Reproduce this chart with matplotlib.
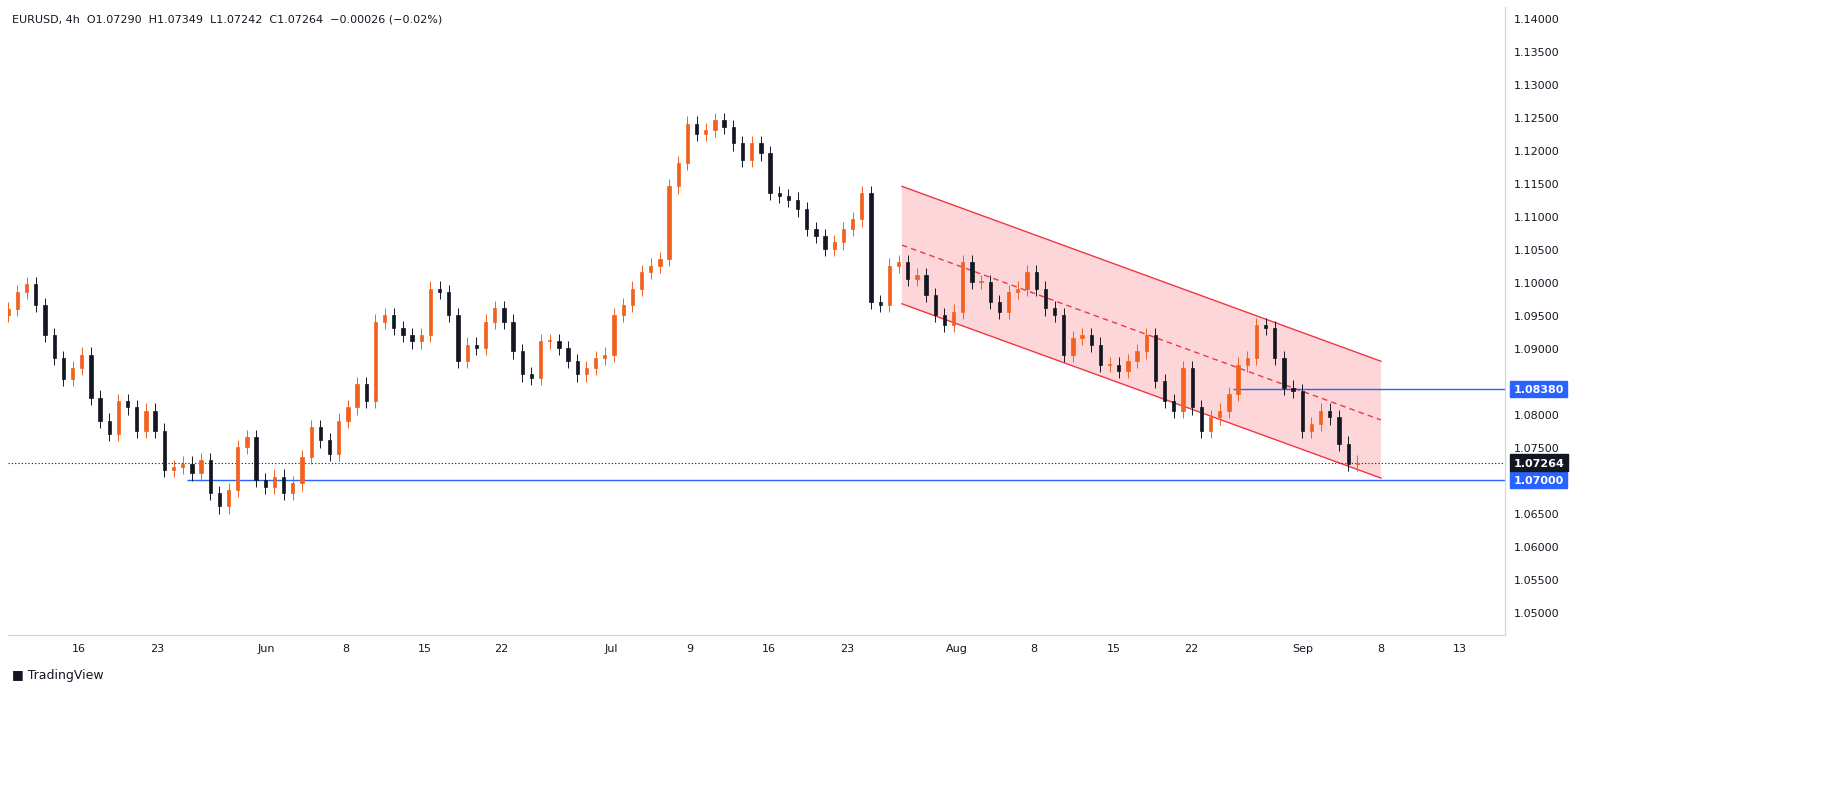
import numpy as np
import matplotlib.pyplot as plt
from matplotlib.patches import Rectangle, Polygon

# closes, roughly every 12h of trading time
closes = [1.0959, 1.0985, 1.0997, 1.0965, 1.0920, 1.0885, 1.0853, 1.0870, 1.0890, 1.0825,
          1.0790, 1.0770, 1.0820, 1.0810, 1.0775, 1.0805, 1.0775, 1.0715, 1.0720, 1.0725,
          1.0710, 1.0730, 1.0680, 1.0660, 1.0685, 1.0750, 1.0765, 1.0700, 1.0690, 1.0705,
          1.0680, 1.0695, 1.0735, 1.0780, 1.0760, 1.0740, 1.0790, 1.0810, 1.0845, 1.0820,
          1.0940, 1.0950, 1.0930, 1.0920, 1.0910, 1.0920, 1.0990, 1.0985, 1.0950, 1.0880,
          1.0905, 1.0900, 1.0940, 1.0960, 1.0940, 1.0895, 1.0860, 1.0855, 1.0910, 1.0910,
          1.0900, 1.0880, 1.0860, 1.0870, 1.0885, 1.0890, 1.0950, 1.0965, 1.0990, 1.1015,
          1.1025, 1.1035, 1.1145, 1.1180, 1.1240, 1.1225, 1.1230, 1.1245, 1.1235, 1.1210,
          1.1185, 1.1210, 1.1195, 1.1135, 1.1130, 1.1125, 1.1110, 1.1080, 1.1070, 1.1050,
          1.1060, 1.1080, 1.1095, 1.1135, 1.0970, 1.0965, 1.1025, 1.1030, 1.1005, 1.1010,
          1.0980, 1.0950, 1.0935, 1.0955, 1.1030, 1.1000, 1.1000, 1.0970, 1.0955, 1.0985,
          1.0990, 1.1015, 1.0990, 1.0960, 1.0950, 1.0890, 1.0915, 1.0920, 1.0905, 1.0875,
          1.0875, 1.0865, 1.0880, 1.0895, 1.0920, 1.0850, 1.0820, 1.0805, 1.0870, 1.0810,
          1.0775, 1.0795, 1.0805, 1.0830, 1.0875, 1.0885, 1.0935, 1.0930, 1.0885, 1.0840,
          1.0835, 1.0775, 1.0785, 1.0805, 1.0795, 1.0755, 1.0725, 1.07264]
first_open = 1.0950
wick = 0.0011
start_day, end_day = -4.5, 81.4

tick_days = [0, 5, 11.9, 17, 22, 26.9, 33.9, 38.9, 43.9, 48.9, 55.9, 60.8, 65.9, 70.8, 77.9, 82.9, 87.9]
tick_labels = ["16", "23", "Jun", "8", "15", "22", "Jul", "9", "16", "23", "Aug", "8", "15", "22", "Sep", "8", "13"]

channel_days = [52.4, 82.9]
channel_upper = [1.1145, 1.0880]
channel_lower = [1.0967, 1.0703]
channel_mid = [1.1056, 1.0791]
support = 1.0700
support_start = 6.9
resist = 1.0838
resist_start = 73.5
last_price = 1.07264

UP, DOWN = "#f2611d", "#131722"

fig = plt.figure(figsize=(18.43, 8.12), dpi=100)
ax = fig.add_axes([8 / 1843, 176 / 812, 1497 / 1843, 628 / 812])
ax.set_xlim(-4.52, 90.8)
ax.set_ylim(1.04652, 1.14167)

n = len(closes)
xs = np.linspace(start_day, end_day, n)
step = xs[1] - xs[0]
opens = [first_open] + closes[:-1]
for x, o, c in zip(xs, opens, closes):
    col = UP if c >= o else DOWN
    lo, hi = min(o, c), max(o, c)
    ax.vlines(x, lo - wick, hi + wick, color=col, lw=0.7, zorder=3)
    ax.add_patch(Rectangle((x - step * 0.18, lo), step * 0.36, max(hi - lo, 0.00015),
                           facecolor=col, edgecolor=col, lw=0.5, zorder=4))

# channel
ax.add_patch(Polygon([(channel_days[0], channel_upper[0]), (channel_days[1], channel_upper[1]),
                      (channel_days[1], channel_lower[1]), (channel_days[0], channel_lower[0])],
                     closed=True, facecolor="#f23645", alpha=0.2, lw=0, zorder=1))
ax.plot(channel_days, channel_upper, color="#f23645", lw=1, zorder=2)
ax.plot(channel_days, channel_lower, color="#f23645", lw=1, zorder=2)
ax.plot(channel_days, channel_mid, color="#f23645", lw=1, ls=(0, (4, 3)), zorder=2)

ax.hlines(support, support_start, 90.8, color="#2962ff", lw=1, zorder=2)
ax.hlines(resist, resist_start, 90.8, color="#2962ff", lw=1, zorder=2)
ax.axhline(last_price, color="#131722", lw=0.8, ls=(0, (1, 2)), zorder=2)

ax.set_xticks(tick_days)
ax.set_xticklabels(tick_labels)
yt = np.arange(1.05, 1.1401, 0.005)
ax.set_yticks(yt)
# labels hidden under the price boxes are left blank
ax.set_yticklabels(["" if abs(v - 1.07) < 1e-6 or abs(v - 1.085) < 1e-6 else f"{v:.5f}" for v in yt])
ax.yaxis.tick_right()
ax.tick_params(axis="both", length=0, labelsize=8, colors="#131722", pad=6)
for s in ax.spines.values():
    s.set_color("#d1d4dc")
    s.set_linewidth(0.8)
ax.spines["top"].set_visible(False)
ax.spines["left"].set_visible(False)

for val, bg in [(resist, "#2962ff"), (support, "#2962ff"), (last_price, "#131722")]:
    ax.annotate(f"{val:.5f}", xy=(1, val), xycoords=("axes fraction", "data"),
                xytext=(6, 0), textcoords="offset points", va="center", ha="left",
                fontsize=8, fontweight="bold", color="white",
                bbox=dict(boxstyle="square,pad=0.3", fc=bg, ec=bg))

fig.text(12 / 1843, 1 - 20 / 812, "EURUSD, 4h  O1.07290  H1.07349  L1.07242  C1.07264  \u22120.00026 (\u22120.02%)",
         fontsize=8, color="#131722", va="center")
fig.text(12 / 1843, 1 - 676 / 812, "\u25a0 TradingView", fontsize=9, color="#131722", va="center")

fig.savefig("out.png", dpi=100, facecolor="white")
